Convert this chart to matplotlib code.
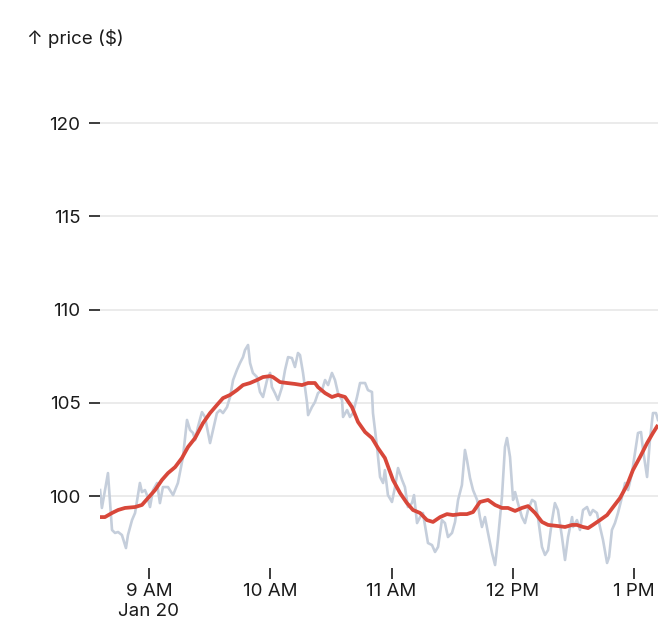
import matplotlib
matplotlib.use("Agg")
import matplotlib.pyplot as plt
import pandas as pd

# minutes after 9 AM on Jan 20, and price in $
raw_min = [-24.2, -23.3, -20.3, -18.3, -16.8, -15.3, -13.4, -11.4, -10.4, -8.4,
           -6.9, -4.5, -3.5, -2.0, -1.0, 0.5, 2.0, 4.0, 5.4, 6.9,
           9.4, 11.9, 14.3, 16.8, 18.8, 20.3, 21.8, 22.8, 24.2, 26.2,
           27.7, 30.2, 31.7, 33.6, 35.1, 36.6, 38.6, 40.1, 41.6, 43.5,
           45.0, 46.5, 47.5, 49.0, 50.0, 51.4, 53.4, 54.9, 56.4, 58.4,
           59.9, 60.8, 62.3, 63.8, 65.8, 67.3, 68.8, 70.7, 72.2, 73.7,
           74.7, 76.2, 78.2, 78.7, 80.6, 82.1, 83.6, 85.6, 87.1, 88.6,
           90.5, 92.0, 93.5, 95.5, 96.0, 98.0, 99.4, 100.9, 102.9, 104.4,
           106.9, 108.3, 110.3, 110.8, 112.8, 114.3, 115.8, 116.7, 118.2, 120.2,
           121.7, 123.2, 125.2, 126.6, 128.1, 130.1, 131.1, 132.6, 134.1, 135.5,
           138.0, 140.0, 141.5, 143.0, 144.9, 146.4, 147.9, 149.9, 151.4, 152.9,
           154.8, 156.3, 157.3, 158.8, 160.3, 162.3, 163.7, 164.7, 166.2, 167.7,
           169.7, 171.2, 172.6, 174.6, 176.1, 177.1, 178.6, 180.1, 181.1, 182.5,
           184.5, 186.0, 187.5, 189.5, 191.0, 192.4, 194.4, 195.9, 197.4, 199.4,
           200.8, 202.3, 204.3, 205.8, 207.3, 209.3, 209.8, 211.7, 213.2, 214.7,
           216.7, 218.2, 219.6, 221.6, 223.1, 224.6, 226.6, 227.6, 229.0, 230.5,
           232.0, 234.0, 235.5, 237.0, 238.9, 240.4, 241.9, 243.4, 244.4, 246.4,
           247.8, 249.3, 250.8, 251.8]
raw_price = [100.32, 99.36, 101.23, 98.18, 98.02, 98.07, 97.91, 97.21, 97.91, 98.71,
             99.09, 100.70, 100.21, 100.32, 100.05, 99.41, 100.32, 100.70, 99.62, 100.48,
             100.48, 100.05, 100.70, 102.09, 104.08, 103.54, 103.38, 103.00, 103.70, 104.50,
             104.24, 102.84, 103.54, 104.45, 104.61, 104.45, 104.77, 105.31, 106.22, 106.76,
             107.13, 107.45, 107.83, 108.10, 107.13, 106.60, 106.38, 105.58, 105.31, 106.22,
             106.60, 105.84, 105.52, 105.15, 105.84, 106.76, 107.45, 107.40, 106.92, 107.67,
             107.56, 106.60, 104.99, 104.34, 104.77, 105.04, 105.52, 105.68, 106.22, 105.95,
             106.60, 106.22, 105.52, 105.15, 104.24, 104.61, 104.24, 104.45, 105.31, 106.06,
             106.06, 105.68, 105.58, 104.45, 102.63, 101.02, 100.70, 101.39, 100.05, 99.68,
             100.48, 101.50, 100.86, 100.48, 99.41, 99.62, 100.05, 98.55, 98.87, 99.09,
             97.48, 97.37, 97.00, 97.27, 98.71, 98.55, 97.80, 98.02, 98.61, 99.79,
             100.59, 102.47, 101.93, 100.97, 100.32, 99.79, 98.87, 98.34, 98.87, 98.02,
             96.94, 96.30, 97.64, 99.95, 102.63, 103.11, 102.09, 99.79, 100.21, 99.62,
             98.87, 98.55, 99.25, 99.79, 99.68, 98.87, 97.27, 96.84, 97.10, 98.71,
             99.62, 99.25, 97.80, 96.57, 97.80, 98.87, 98.34, 98.71, 98.18, 99.25,
             99.41, 98.98, 99.25, 99.09, 98.34, 97.64, 96.41, 96.73, 98.18, 98.55,
             99.09, 99.95, 100.70, 100.32, 101.23, 102.31, 103.38, 103.43, 102.47, 101.02,
             103.00, 104.45, 104.45, 104.08]

avg_min = [-25.2, -21.8, -18.3, -15.3, -11.9, -6.9, -3.5, -0.5, 3.0, 6.4,
           9.4, 12.9, 16.3, 19.3, 22.8, 26.7, 30.2, 33.6, 36.6, 40.1,
           43.5, 46.5, 50.0, 53.4, 56.4, 59.9, 61.3, 64.8, 68.3, 72.2,
           75.7, 78.7, 82.1, 83.6, 87.1, 90.5, 93.5, 97.0, 100.4, 103.4,
           106.9, 110.3, 113.3, 116.7, 120.7, 124.2, 127.6, 130.6, 134.1, 137.5,
           140.5, 144.0, 147.4, 150.4, 153.9, 157.3, 160.3, 163.7, 167.7, 171.2,
           174.6, 177.6, 181.1, 184.5, 187.5, 191.0, 194.4, 197.4, 202.3, 205.8,
           209.3, 211.7, 214.7, 217.2, 219.6, 223.1, 226.6, 229.6, 233.0, 236.5,
           239.4, 242.9, 246.4, 249.3, 251.8]
avg_price = [98.87, 98.87, 99.09, 99.25, 99.36, 99.41, 99.52, 99.89, 100.32, 100.86,
             101.23, 101.55, 102.04, 102.63, 103.11, 103.91, 104.45, 104.88, 105.25, 105.42,
             105.68, 105.95, 106.06, 106.22, 106.38, 106.43, 106.38, 106.11, 106.06, 106.01,
             105.95, 106.06, 106.06, 105.84, 105.52, 105.31, 105.42, 105.31, 104.77, 103.97,
             103.43, 103.11, 102.57, 102.04, 100.86, 100.16, 99.62, 99.25, 99.09, 98.71,
             98.61, 98.87, 99.03, 98.98, 99.03, 99.03, 99.14, 99.68, 99.79, 99.52,
             99.36, 99.36, 99.20, 99.36, 99.46, 99.09, 98.61, 98.45, 98.39, 98.34,
             98.45, 98.45, 98.34, 98.28, 98.45, 98.71, 98.98, 99.41, 99.89, 100.59,
             101.39, 102.09, 102.84, 103.38, 103.81]

y_ticks = [100, 105, 110, 115, 120]
x_tick_hours = [9, 10, 11, 12, 13]
x_tick_labels = ["9 AM\nJan 20", "10 AM", "11 AM", "12 PM", "1 PM"]

base = pd.Timestamp("2022-01-20 09:00")
raw_t = base + pd.to_timedelta(raw_min, unit="min")
avg_t = base + pd.to_timedelta(avg_min, unit="min")

plt.rcParams["font.family"] = ["Inter", "DejaVu Sans"]
ink = "#1b1b1b"
fs = 13.5

W, H = 658, 638
fig = plt.figure(figsize=(W / 100, H / 100), dpi=100)
ax = fig.add_axes([100 / W, (H - 568) / H, 558 / W, (568 - 55) / H])

ax.plot(raw_t, raw_price, color="#c5cedb", lw=1.9, solid_joinstyle="round", zorder=2)
ax.plot(avg_t, avg_price, color="#d8473a", lw=2.7, solid_capstyle="butt",
        solid_joinstyle="round", zorder=3)

ax.set_xlim(base + pd.Timedelta(minutes=-24.24), base + pd.Timedelta(minutes=251.8))
ax.set_ylim(96.14, 123.65)

for s in ax.spines.values():
    s.set_visible(False)

ax.set_yticks(y_ticks)
ax.set_yticklabels([str(v) for v in y_ticks])
ax.grid(axis="y", color="#e6e6e6", lw=1.1, zorder=0)
ax.tick_params(axis="y", length=8, width=1.2, color=ink, pad=6,
               labelsize=fs, labelcolor=ink)

ax.set_xticks([base + pd.Timedelta(hours=h - 9) for h in x_tick_hours])
ax.set_xticklabels(x_tick_labels, linespacing=1.2)
ax.tick_params(axis="x", length=8, width=1.2, color=ink, pad=3,
               labelsize=fs, labelcolor=ink)

fig.text(27 / W, 1 - 38 / H, "↑ price ($)", fontsize=fs, color=ink,
         ha="left", va="center")

fig.savefig("out.png", dpi=100, facecolor="white")
